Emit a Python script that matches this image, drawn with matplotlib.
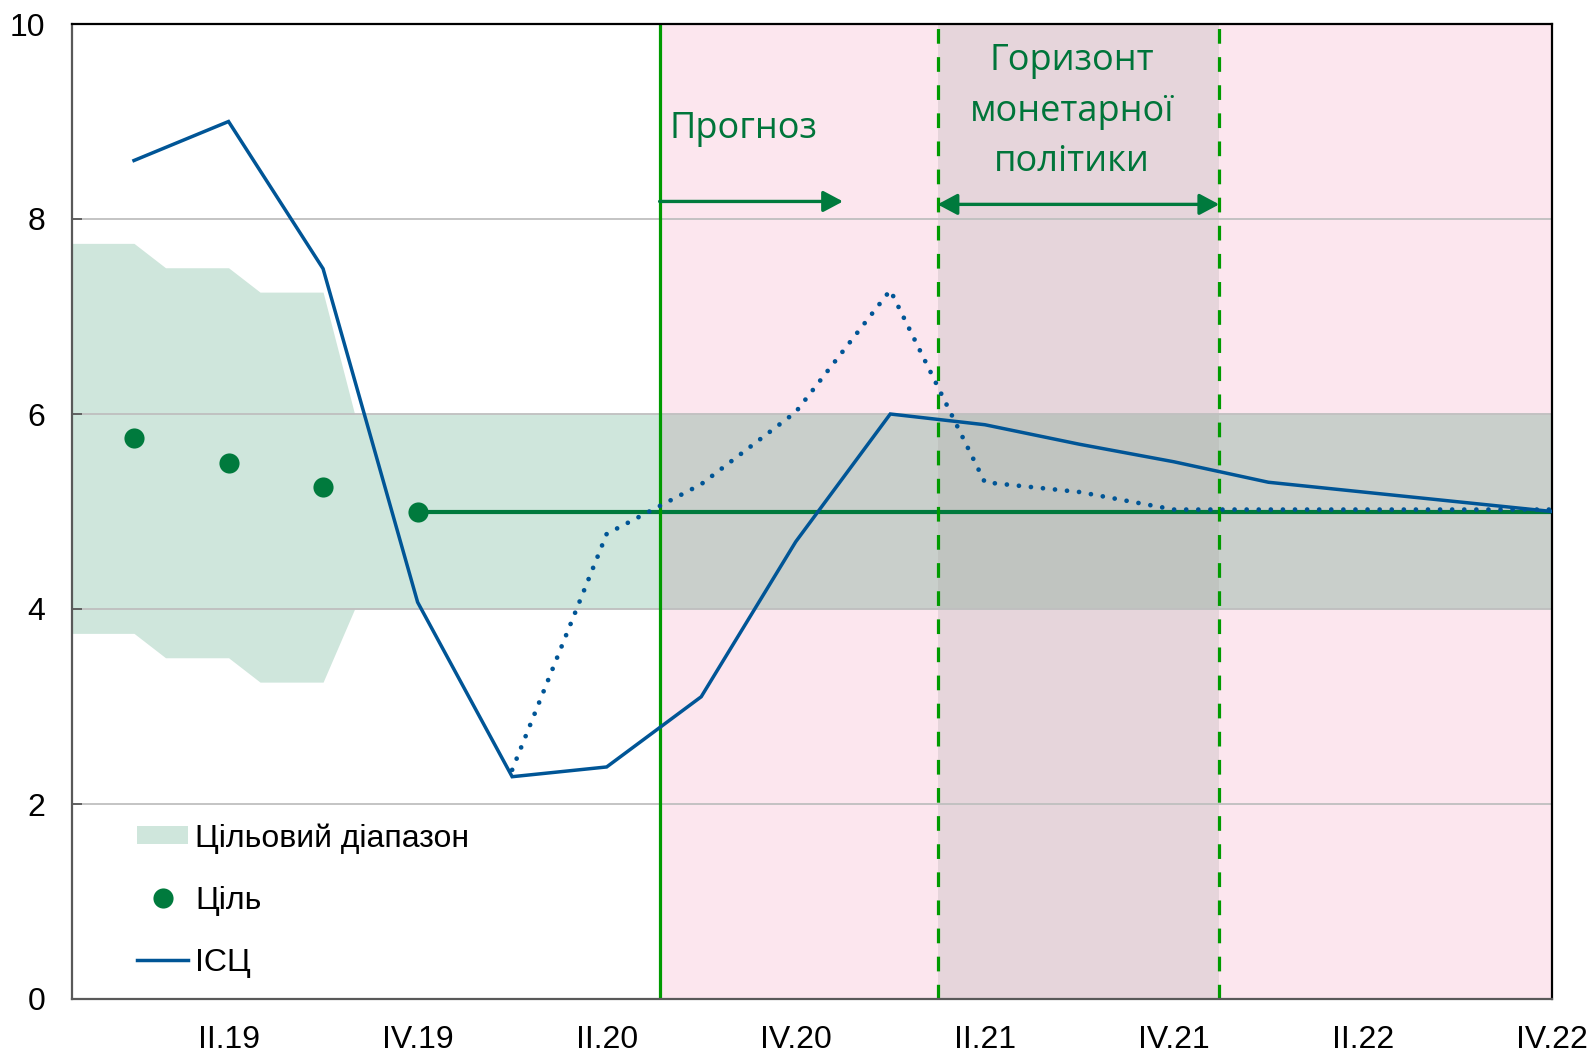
import numpy as np
import matplotlib
matplotlib.use("Agg")
import matplotlib.pyplot as plt
from matplotlib.patches import Patch, Rectangle
from matplotlib.lines import Line2D

# ---------------- data ----------------
quarters = ['I.19', 'II.19', 'III.19', 'IV.19',
            'I.20', 'II.20', 'III.20', 'IV.20',
            'I.21', 'II.21', 'III.21', 'IV.21',
            'I.22', 'II.22', 'III.22', 'IV.22']
cpi = [8.6, 9.0, 7.49, 4.07, 2.28, 2.38, 3.1, 4.69,
       6.0, 5.89, 5.69, 5.51, 5.3, 5.2, 5.1, 5.0]
cpi_prev_forecast = [np.nan, np.nan, np.nan, np.nan, 2.35, 4.77, 5.28, 6.02,
                     7.27, 5.3, 5.2, 5.02, 5.02, 5.02, 5.02, 5.02]
target = [5.75, 5.5, 5.25, 5.0, 5.0, 5.0, 5.0, 5.0,
          5.0, 5.0, 5.0, 5.0, 5.0, 5.0, 5.0, 5.0]
range_low = [3.75, 3.5, 3.25, 4.0, 4.0, 4.0, 4.0, 4.0,
             4.0, 4.0, 4.0, 4.0, 4.0, 4.0, 4.0, 4.0]
range_high = [7.75, 7.5, 7.25, 6.0, 6.0, 6.0, 6.0, 6.0,
              6.0, 6.0, 6.0, 6.0, 6.0, 6.0, 6.0, 6.0]
tick_labels = quarters[1::2]
forecast_start = 5.56
horizon_start, horizon_end = 8.5, 11.48

# ---------------- style ----------------
GREEN_BAND = '#CFE6DC'
BAND_PINK = '#C9CFCB'
BAND_HOR = '#C0C4C0'
PINK = '#FCE6EE'
HOR_PINK = '#E6D5DB'
BLUE = '#005596'
DKGREEN = '#007A3D'
LTGREEN = '#009A00'
TXTGREEN = '#00753A'
TICKFONT = 'Liberation Sans'

fig = plt.figure(figsize=(15.94, 10.54), dpi=100)
ax = fig.add_axes([72 / 1594, 1 - 999 / 1054, 1480 / 1594, 975 / 1054])

x = np.arange(len(quarters))
xm = np.arange(3 * len(quarters)) / 3.0 - 2.0 / 3.0
lowm = np.repeat(range_low, 3)
highm = np.repeat(range_high, 3)

# backgrounds
ax.axvspan(forecast_start, x[-1], color=PINK, lw=0, zorder=0.2)
ax.axvspan(horizon_start, horizon_end, color=HOR_PINK, lw=0, zorder=0.3)

# target range band, coloured per region
regions = [(-1, forecast_start, GREEN_BAND),
           (forecast_start, horizon_start, BAND_PINK),
           (horizon_start, horizon_end, BAND_HOR),
           (horizon_end, 16, BAND_PINK)]
for x0, x1, col in regions:
    f = ax.fill_between(xm, lowm, highm, color=col, lw=0, zorder=1)
    rect = Rectangle((x0, -1), x1 - x0, 12, transform=ax.transData)
    f.set_clip_path(rect)

# grid
ax.set_yticks(range(0, 11, 2))
ax.yaxis.grid(True, color='#BFBFBF', lw=1.3, zorder=1.5)
ax.set_axisbelow('line')

# target line and dots
ax.plot(x[3:], target[3:], color=DKGREEN, lw=3.0, zorder=2, solid_capstyle='butt')
ax.plot(x[:4], target[:4], 'o', color=DKGREEN, ms=14.5, mew=0, zorder=3.2)

# vertical lines
ax.axvline(forecast_start, color=LTGREEN, lw=2.3, zorder=2.5)
for xv in (horizon_start, horizon_end):
    ax.axvline(xv, color=LTGREEN, lw=2.3, ls=(0, (4.6, 4.2)), zorder=2.5)

# CPI lines
ax.plot(x, cpi, color=BLUE, lw=2.5, zorder=3, solid_joinstyle='miter')
ax.plot(x, cpi_prev_forecast, color=BLUE, lw=3.4, ls=(0, (0.01, 2.55)),
        dash_capstyle='round', zorder=3.1)

# arrows
arrow_y = 8.18
ax.annotate('', xy=(7.5, arrow_y), xytext=(forecast_start, arrow_y),
            arrowprops=dict(arrowstyle='-|>,head_length=0.6,head_width=0.32',
                            color=DKGREEN, lw=2.4, mutation_scale=20,
                            shrinkA=0, shrinkB=0), zorder=4)
ax.annotate('', xy=(horizon_end, arrow_y - 0.03), xytext=(horizon_start, arrow_y - 0.03),
            arrowprops=dict(arrowstyle='<|-|>,head_length=0.6,head_width=0.32',
                            color=DKGREEN, lw=2.4, mutation_scale=20,
                            shrinkA=0, shrinkB=0), zorder=4)

# texts
tfont = dict(family=['Open Sans', 'DejaVu Sans'], color=TXTGREEN, fontsize=26)
ax.text(5.66, 8.92, 'Прогноз', ha='left', va='center', **tfont)
for yy, s in zip((9.62, 9.1, 8.58), ('Горизонт', 'монетарної', 'політики')):
    ax.text(9.92, yy, s, ha='center', va='center', **tfont)

# axes
ax.set_xlim(-0.656, x[-1])
ax.set_ylim(0, 10)
ax.set_xticks(x[1::2])
ax.set_xticklabels(tick_labels)
ax.tick_params(axis='x', length=0, pad=19, labelsize=23)
ax.tick_params(axis='y', direction='in', length=7, width=1.3, color='#595959',
               pad=19, labelsize=23)
for lab in ax.get_xticklabels() + ax.get_yticklabels():
    lab.set_family(TICKFONT)

for side in ('left', 'bottom'):
    ax.spines[side].set_color('#595959')
    ax.spines[side].set_linewidth(1.6)
for side in ('top', 'right'):
    ax.spines[side].set_color('#000000')
    ax.spines[side].set_linewidth(1.6)

# legend
handles = [Patch(facecolor=GREEN_BAND, edgecolor='none'),
           Line2D([], [], marker='o', ls='none', color=DKGREEN, ms=14.5, mew=0),
           Line2D([], [], color=BLUE, lw=2.5)]
labels = ['Цільовий діапазон', 'Ціль', 'ІСЦ']
leg = ax.legend(handles, labels, loc='lower left', bbox_to_anchor=(0.044, 0.022),
                frameon=False, prop=dict(family=TICKFONT, size=23),
                handlelength=1.6, handleheight=0.5, handletextpad=0.22,
                labelspacing=1.0, borderpad=0, borderaxespad=0)
leg.set_zorder(5)

fig.savefig('out.png', dpi=100)
